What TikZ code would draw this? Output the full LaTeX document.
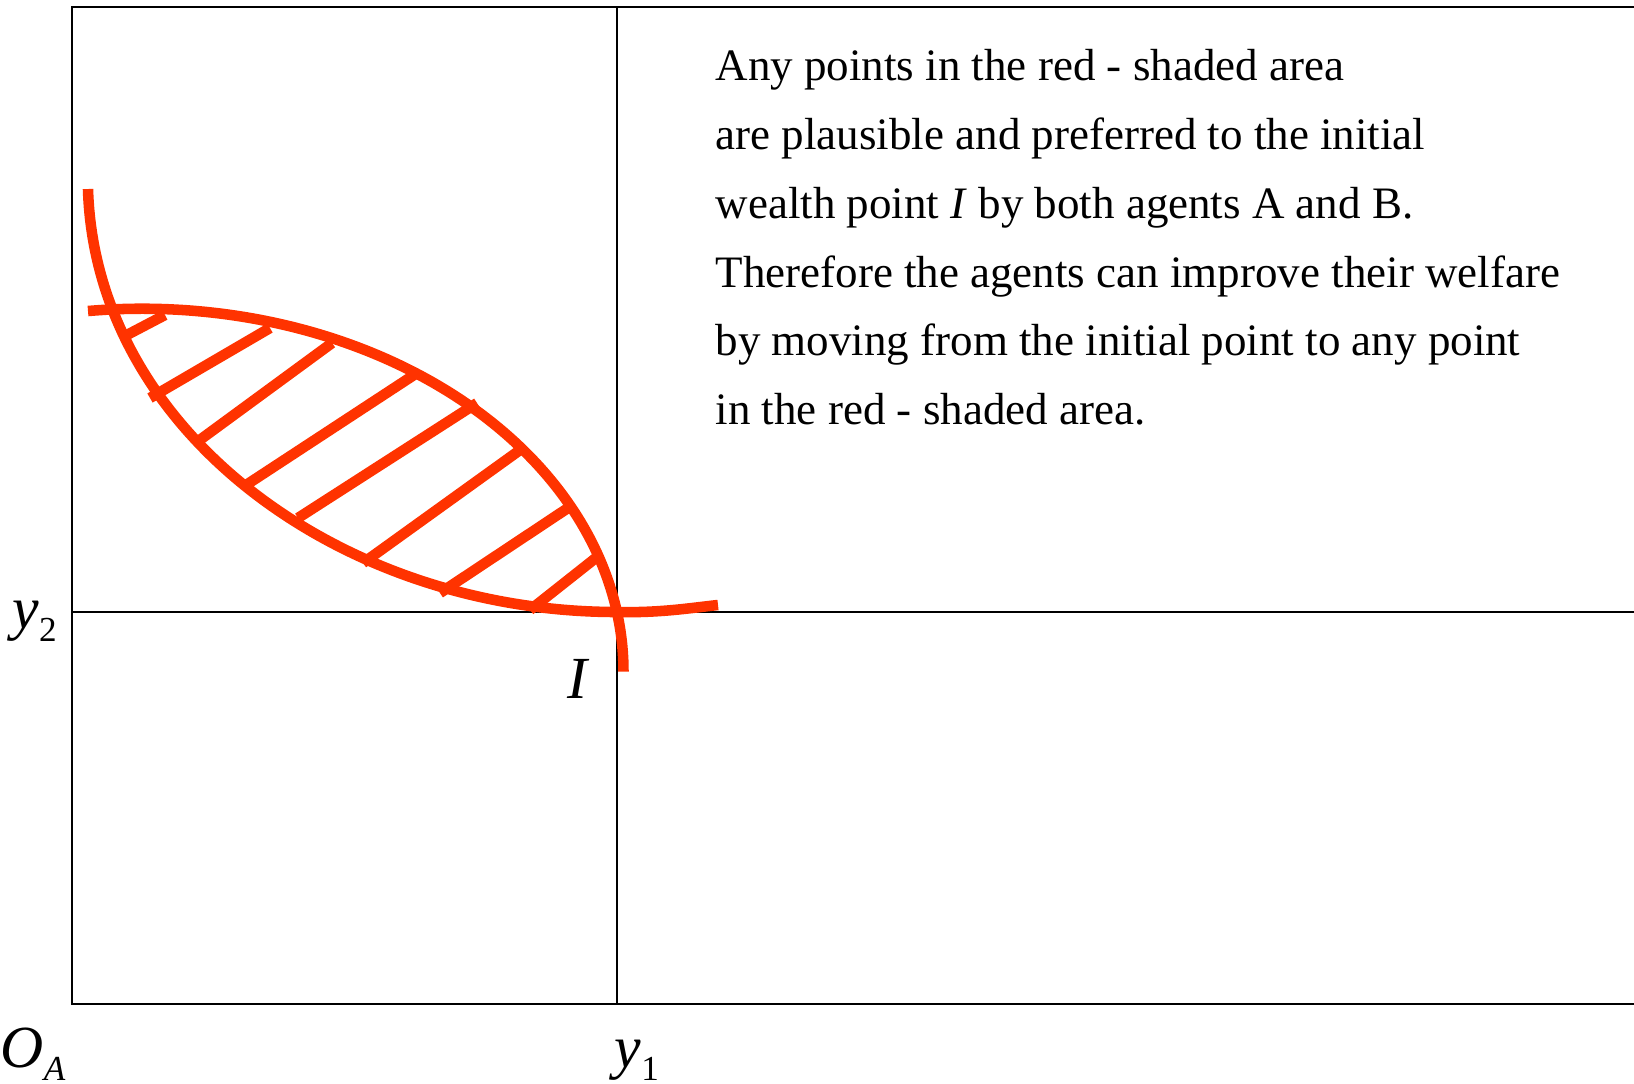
\documentclass[tikz,border=0pt]{standalone}
\usepackage{fontspec}
\setmainfont{Liberation Serif}
\usetikzlibrary{calc}
\definecolor{lensred}{RGB}{255,51,0}
\newcommand{\lowsub}[1]{\raisebox{-1.35mm}{\fontsize{10}{10}\selectfont #1}}

\begin{document}
\begin{tikzpicture}[
            x=0.1mm, y=-0.1mm,
            axis/.style={line width=0.6pt},
            icurve/.style={draw=lensred, line width=3pt},
            hatch/.style={draw=lensred, line width=3pt},
            lbl/.style={inner sep=0pt, font=\fontsize{17}{17}\selectfont},
            note/.style={inner sep=0pt, align=left,
                font=\fontsize{12.8}{19.55}\selectfont}
        ]
            \useasboundingbox (0,0) rectangle (1634,1083);

            % Edgeworth box and endowment point
            \coordinate (OA) at (72,1004);
            \coordinate (I) at (617,612);
            \draw[axis] (1634,7) -- (72,7) -- (OA) -- (1634,1004);
            \draw[axis] (I |- 0,7) -- (I |- OA);
            \draw[axis] (OA |- I) -- (1634,612);

            % indifference curves through I
            \draw[icurve] (88,189) .. controls (95,430) and (340,612) .. (I)
                .. controls (660,613) and (690,608) .. (718,605);
            \draw[icurve] (88,311) arc[start angle=96.44, end angle=0,
                x radius=48.15mm, y radius=36.3mm];

            % shading of the lens
            \draw[hatch] (123,337) -- (165,315);
            \draw[hatch] (150,398) -- (270,328);
            \draw[hatch] (197,442) -- (332,343);
            \draw[hatch] (243,487) -- (417,373);
            \draw[hatch] (298,518) -- (477,403);
            \draw[hatch] (363,563) -- (520,450);
            \draw[hatch] (440,593) -- (568,508);
            \draw[hatch] (530,610) -- (597,557);

            % labels
            \node[lbl, anchor=base west] (y2lbl) at (12,628) {\textit{y}\lowsub{2}};
            \node[lbl, anchor=base west] (oalbl) at (0,1067) {\textit{O}\lowsub{\textit{A}}};
            \node[lbl, anchor=base west] (y1lbl) at (614,1067) {\textit{y}\lowsub{1}};
            \node[lbl, anchor=base west] (ilbl) at (567,698) {\textit{I}};

            \node[note, anchor=north west] (msg) at (715,49)
            {Any points in the red - shaded area\\
            are plausible and preferred to the initial\\
            wealth point \textit{I} by both agents A and B.\\
            Therefore the agents can improve their welfare\\
            by moving from the initial point to any point\\
            in the red - shaded area.};
        \end{tikzpicture}
\end{document}
